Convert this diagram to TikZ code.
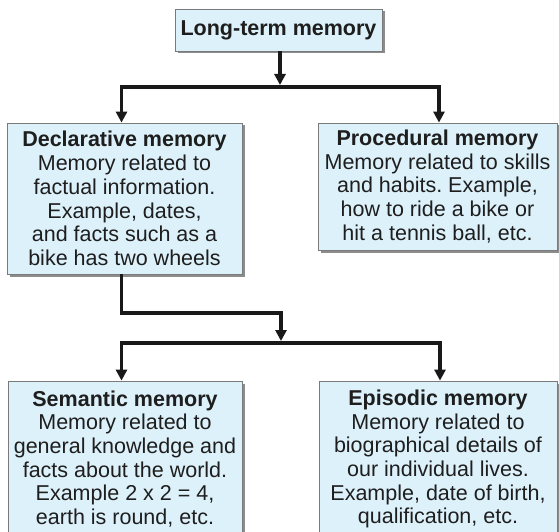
\documentclass[tikz,border=0pt]{standalone}
\usepackage{fontspec}
\setmainfont{Liberation Sans}
\frenchspacing
\usetikzlibrary{arrows.meta,shadows}
\definecolor{boxfill}{HTML}{DDF1FA}
\definecolor{boxline}{HTML}{7A7A7A}
\definecolor{txt}{HTML}{1E1E1E}
\begin{document}
\begin{tikzpicture}[x=1pt,y=-1pt,
  memorybox/.style={draw=boxline, line width=0.8pt, fill=boxfill, align=center,
    inner sep=0pt, text=txt, font=\fontsize{21.5}{23.7}\selectfont,
    drop shadow={shadow xshift=2.5pt, shadow yshift=-2.5pt, fill=black!45, opacity=1}},
  link/.style={line width=3.6pt, draw=black!90},
  tip/.style={-{Triangle[width=11pt,length=11pt]}},
  twotips/.style={{Triangle[width=11pt,length=11pt]}-{Triangle[width=11pt,length=11pt]}}]
\useasboundingbox (0,0) rectangle (559,532);

% boxes
\node[memorybox, minimum width=207pt, minimum height=42pt] (ltm) at (278.5,30)
  {\textbf{Long-term memory}};
\node[memorybox, minimum width=235pt, minimum height=151pt] (decl) at (124.5,198.5)
  {\textbf{Declarative memory}\\Memory related to\\factual information.\\Example, dates,\\and facts such as a\\bike has two wheels};
\node[memorybox, minimum width=239pt, minimum height=127pt] (proc) at (437.5,186.5)
  {\textbf{Procedural memory}\\Memory related to skills\\and habits. Example,\\how to ride a bike or\\hit a tennis ball, etc.};
\node[memorybox, minimum width=234pt, minimum height=156pt] (sem) at (125,459)
  {\textbf{Semantic memory}\\Memory related to\\general knowledge and\\facts about the world.\\Example 2 x 2 = 4,\\earth is round, etc.};
\node[memorybox, minimum width=238pt, minimum height=156pt] (epi) at (438,459)
  {\textbf{Episodic memory}\\Memory related to\\biographical details of\\our individual lives.\\Example, date of birth,\\qualification, etc.};

% junction points of the connectors
\coordinate (j0) at (280,85);
\coordinate (al) at (121.5,87);
\coordinate (ar) at (439,87);
\coordinate (bl) at (121.5,313);
\coordinate (bm) at (281,313);
\coordinate (j1) at (281,341);
\coordinate (cl) at (121.5,343);
\coordinate (cr) at (440,343);

% connectors
\draw[link, tip] (ltm.south -| j0) -- (j0);
\draw[link, twotips] (decl.north -| al) -- (al) -- (ar) -- (proc.north -| ar);
\draw[link, tip] (decl.south -| bl) -- (bl) -- (bm) -- (j1);
\draw[link, twotips] (sem.north -| cl) -- (cl) -- (cr) -- (epi.north -| cr);
\end{tikzpicture}
\end{document}
